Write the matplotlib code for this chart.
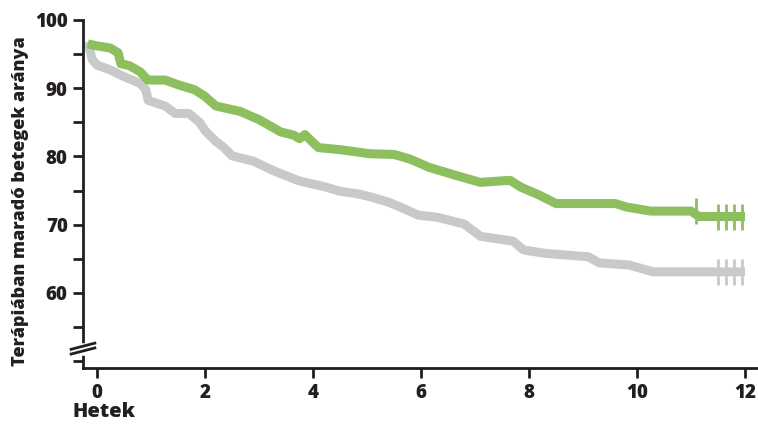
import matplotlib.pyplot as plt
from matplotlib.lines import Line2D

plt.rcParams['font.family'] = ['Open Sans', 'DejaVu Sans']
plt.rcParams['font.weight'] = 'heavy'

# green curve (weeks, %)
green_x = [-0.17, 0, 0.24, 0.39, 0.44, 0.6, 0.8, 0.94, 1.26, 1.54, 1.8, 2.0, 2.2, 2.65, 3.0,
           3.4, 3.65, 3.75, 3.85, 3.94, 4.1, 4.5, 5.05, 5.5, 5.8, 6.15, 6.7, 7.1, 7.45, 7.65,
           7.85, 8.2, 8.5, 8.75, 9.6, 9.8, 10.25, 11.0, 11.15, 12.0]
green_y = [96.5, 96.2, 95.9, 95.2, 93.6, 93.3, 92.4, 91.2, 91.2, 90.4, 89.8, 88.8, 87.4, 86.6, 85.4,
           83.6, 83.1, 82.6, 83.2, 82.5, 81.3, 81.0, 80.4, 80.3, 79.6, 78.4, 77.1, 76.2, 76.4, 76.5,
           75.5, 74.3, 73.1, 73.1, 73.1, 72.6, 72.0, 72.0, 71.2, 71.2]
green_cens_x = [11.1, 11.5, 11.65, 11.8, 11.95]
green_cens_y = [72.0, 71.2, 71.2, 71.2, 71.2]

# gray curve
gray_x = [-0.17, -0.09, 0, 0.24, 0.5, 0.8, 0.9, 0.95, 1.26, 1.45, 1.7, 1.9, 2.0, 2.2, 2.35,
          2.5, 2.9, 3.3, 3.75, 4.2, 4.5, 4.85, 5.1, 5.4, 5.7, 5.95, 6.3, 6.8, 7.1, 7.7,
          7.9, 8.3, 9.1, 9.3, 9.85, 10.3, 12.0]
gray_y = [96.8, 94.2, 93.4, 92.7, 91.7, 90.7, 89.8, 88.2, 87.4, 86.3, 86.3, 85.0, 83.8, 82.2, 81.3,
          80.1, 79.3, 77.8, 76.4, 75.6, 74.9, 74.5, 74.0, 73.3, 72.3, 71.4, 71.1, 70.1, 68.3, 67.6,
          66.3, 65.8, 65.3, 64.4, 64.1, 63.1, 63.1]
gray_cens_x = [11.5, 11.65, 11.8, 11.95]
gray_cens_y = [63.1, 63.1, 63.1, 63.1]

x_ticks = [0, 2, 4, 6, 8, 10, 12]
y_major = [60, 70, 80, 90, 100]
y_minor = [50, 55, 65, 75, 85, 95]

green = '#8dbf5e'
gray = '#c8c9cb'
dark = '#231f20'

fig = plt.figure(figsize=(7.58, 4.25), dpi=100)
ax = fig.add_axes([0.1095, 0.134, 0.8905, 0.819])

ax.plot(gray_x, gray_y, color=gray, lw=6.5, solid_capstyle='butt', solid_joinstyle='round')
ax.plot(green_x, green_y, color=green, lw=6.5, solid_capstyle='butt', solid_joinstyle='round')
ax.plot(gray_cens_x, gray_cens_y, ls='none', marker='|', ms=19, mew=2, color=gray)
ax.plot(green_cens_x, green_cens_y, ls='none', marker='|', ms=19, mew=2, color=green)

ax.set_xlim(-0.26, 12.24)
ax.set_ylim(49, 100)
ax.set_xticks(x_ticks)
ax.set_yticks(y_major)
ax.set_yticks(y_minor, minor=True)
ax.tick_params(axis='both', which='both', length=7, width=2, color=dark,
               labelsize=13.5, labelcolor=dark, pad=4)
for lab in ax.get_xticklabels() + ax.get_yticklabels():
    lab.set_fontweight('heavy')

for s in ['top', 'right']:
    ax.spines[s].set_visible(False)
for s in ['left', 'bottom']:
    ax.spines[s].set_linewidth(2)
    ax.spines[s].set_color(dark)

# axis break marks on the y axis
ax.add_line(Line2D([-0.26, -0.26], [51.2, 52.3], color='white', lw=4,
                   clip_on=False, zorder=5))
for yb in [51.5, 52.2]:
    ax.add_line(Line2D([-0.48, -0.04], [yb - 0.45, yb + 0.45], color=dark, lw=2,
                       clip_on=False, zorder=6))

ax.set_ylabel('Terápiában maradó betegek aránya', fontsize=13, fontweight='heavy',
              color=dark)
ax.yaxis.set_label_coords(-0.08, 0.48)
fig.text(72 / 758, 1 - 412 / 425, 'Hetek', fontsize=14.5, fontweight='heavy', color=dark,
         ha='left', va='center')

fig.savefig('out.png', dpi=100)
